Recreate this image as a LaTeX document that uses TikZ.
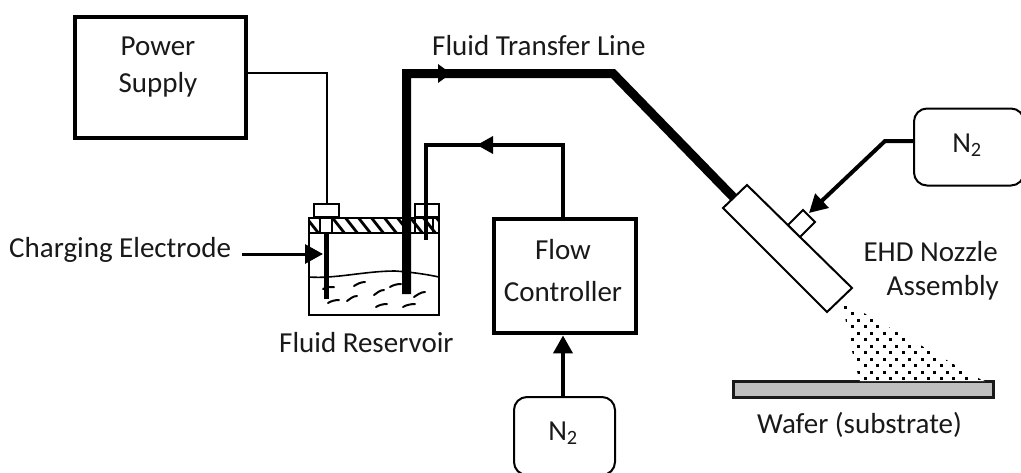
\documentclass[tikz,border=0pt]{standalone}
\usepackage{fontspec}
\setmainfont{Carlito}
\usetikzlibrary{arrows.meta}
\tikzset{
  x=1pt,y=-1pt,
  box/.style={draw=black,line width=4.4pt,fill=white,inner sep=0pt},
  nbox/.style={draw=black,line width=2pt,fill=white,rounded corners=13pt,inner sep=0pt},
  lab/.style={inner sep=0pt,align=center,text=black!90,font=\fontsize{29}{37}\selectfont},
  thin wire/.style={draw=black,line width=2pt},
  feed/.style={draw=black,line width=4.2pt},
  tube/.style={draw=black,line width=9pt},
  part/.style={draw=black,line width=2pt},
  tip/.style={-{Triangle[length=18pt,width=19pt]}},
  wave/.style={draw=black,line width=1.6pt,line cap=round}
}
\begin{document}
\begin{tikzpicture}
\useasboundingbox (0,0) rectangle (1021,472);
% boxes
\node[box,minimum width=171pt,minimum height=121pt,anchor=north west] (ps) at (73,15) {};
\node[lab] (pslab) at (158,67) {Power\\Supply};
\node[box,minimum width=142pt,minimum height=114pt,anchor=north west] (fc) at (492,217) {};
\node[lab] (fclab) at (563,271) {Flow\\[5pt]Controller};
\node[nbox,minimum width=101pt,minimum height=78pt,anchor=north west] (n2a) at (513,396) {};
\node[lab] (n2alab) at (563,433) {N\textsubscript{2}};
\node[nbox,minimum width=110pt,minimum height=77pt,anchor=north west] (n2b) at (913,107.5) {};
\node[lab] (n2blab) at (967,145) {N\textsubscript{2}};
% labels
\node[lab,anchor=west] (l1) at (432,46) {Fluid Transfer Line};
\node[lab,anchor=west] (l2) at (9,250) {Charging Electrode};
\node[lab,anchor=west] (l3) at (279,343) {Fluid Reservoir};
\node[lab,anchor=east] (l4) at (998,252) {EHD Nozzle};
\node[lab,anchor=east] (l5) at (999,288) {Assembly};
\node[lab,anchor=west] (l6) at (757,425) {Wafer (substrate)};
% reservoir
\coordinate (rtl) at (309,218);
\coordinate (rbr) at (439,315);
\begin{scope}
\clip (309,218) rectangle (439,233);
\foreach \k in {-2,...,12} {
  \draw[black,line width=2.8pt] (305+\k*13,216) -- (320+\k*13,235);
}
\end{scope}
\fill[white] (320,219) rectangle (332,232);
\draw[part] (320,218) -- (320,233) (332,218) -- (332,233);
\draw[part] (415,218) -- (415,233) (433,218) -- (433,233);
\draw[part] (rtl) rectangle (rbr);
\draw[part] (309,233) -- (439,233);
\node[part,fill=white,minimum width=25pt,minimum height=13pt,anchor=south,inner sep=0pt] (capa) at (326.5,217.5) {};
\node[part,fill=white,minimum width=24pt,minimum height=13pt,anchor=south,inner sep=0pt] (capb) at (427,217.5) {};
% fluid
\draw[wave] (309,277) .. controls (335,279) and (365,271) .. (395,271);
\draw[wave] (395,271) .. controls (410,272) and (425,274) .. (439,277);
\foreach \a/\b/\c/\d in {323/289/334/287,354/286/365/282,374/295/384/290,390/287/401/284,414/297/425/292,328/303/339/300,347/301/357/296,376/307/387/304,403/307/415/304}{
  \draw[wave,line width=2pt] (\a,\b) .. controls ({\a+3},{\b-2}) and ({\c-4},{\d}) .. (\c,\d);
}
% electrode
\coordinate (ea) at (326.5,233);
\coordinate (eb) at (326.5,299);
\draw[black,line width=4.3pt] (ea) -- (eb);
% power wire
\coordinate (wa) at (326.5,73);
\draw[thin wire] (ps.east |- wa) -- (wa) -- (capa.north);
% fluid tube
\coordinate (ta) at (406.5,294);
\coordinate (tb) at (406.5,73.5);
\coordinate (tc) at (613,73.5);
\coordinate (td) at (737,201);
\draw[tube,miter limit=10] (ta) -- (tb) -- (tc) -- (td);
\fill[black] (451,73.5) -- (438,64) -- (438,83) -- cycle;
% feed line
\coordinate (fa) at (426,240);
\coordinate (fb) at (426,145);
\coordinate (fc1) at (563,145);
\draw[feed] (fa) -- (fb) -- (fc1) -- (fc.north -| fc1);
\fill[black] (477,145) -- (493,136) -- (493,154) -- cycle;
% arrows
\coordinate (ch) at (323,254);
\draw[black,line width=3pt,tip] (242,254) -- (ch);
\draw[black,line width=4pt,tip] (n2a.north -| fc1) -- (fc.south -| fc1);
% nozzle
\draw[part,fill=white] (747,185) -- (723,208) -- (827,312) -- (852,288) -- cycle;
\coordinate (noz) at (809,213);
\draw[part,fill=white] (788,225) -- (803,210) -- (815,222) -- (800,237) -- cycle;
\coordinate (nb) at (885,141);
\draw[black,line width=4pt,tip] (n2b.west |- nb) -- (nb) -- (noz);
% wafer
\node[draw=black!90,line width=2.5pt,fill=black!25,minimum width=260pt,minimum height=16pt,anchor=north west,inner sep=0pt] (wafer) at (732,380) {};
% spray
\fill[white] (843,305) -- (848,335) -- (860,381.2) -- (985,381.2) -- (846,305) -- cycle;
\begin{scope}
\clip (843,304) -- (848,335) -- (860,383) -- (987,383) -- (848,304) -- cycle;
\foreach \k in {0,...,12} {
  \foreach \c in {-2,...,10} {
    \pgfmathsetmacro{\px}{865+\c*12.7-mod(\k,2)*6.35}
    \pgfmathsetmacro{\py}{378.5-\k*6.5}
    \fill[black] (\px-1.5,\py-1.5) rectangle (\px+1.5,\py+1.5);
  }
}
\end{scope}
\end{tikzpicture}
\end{document}
